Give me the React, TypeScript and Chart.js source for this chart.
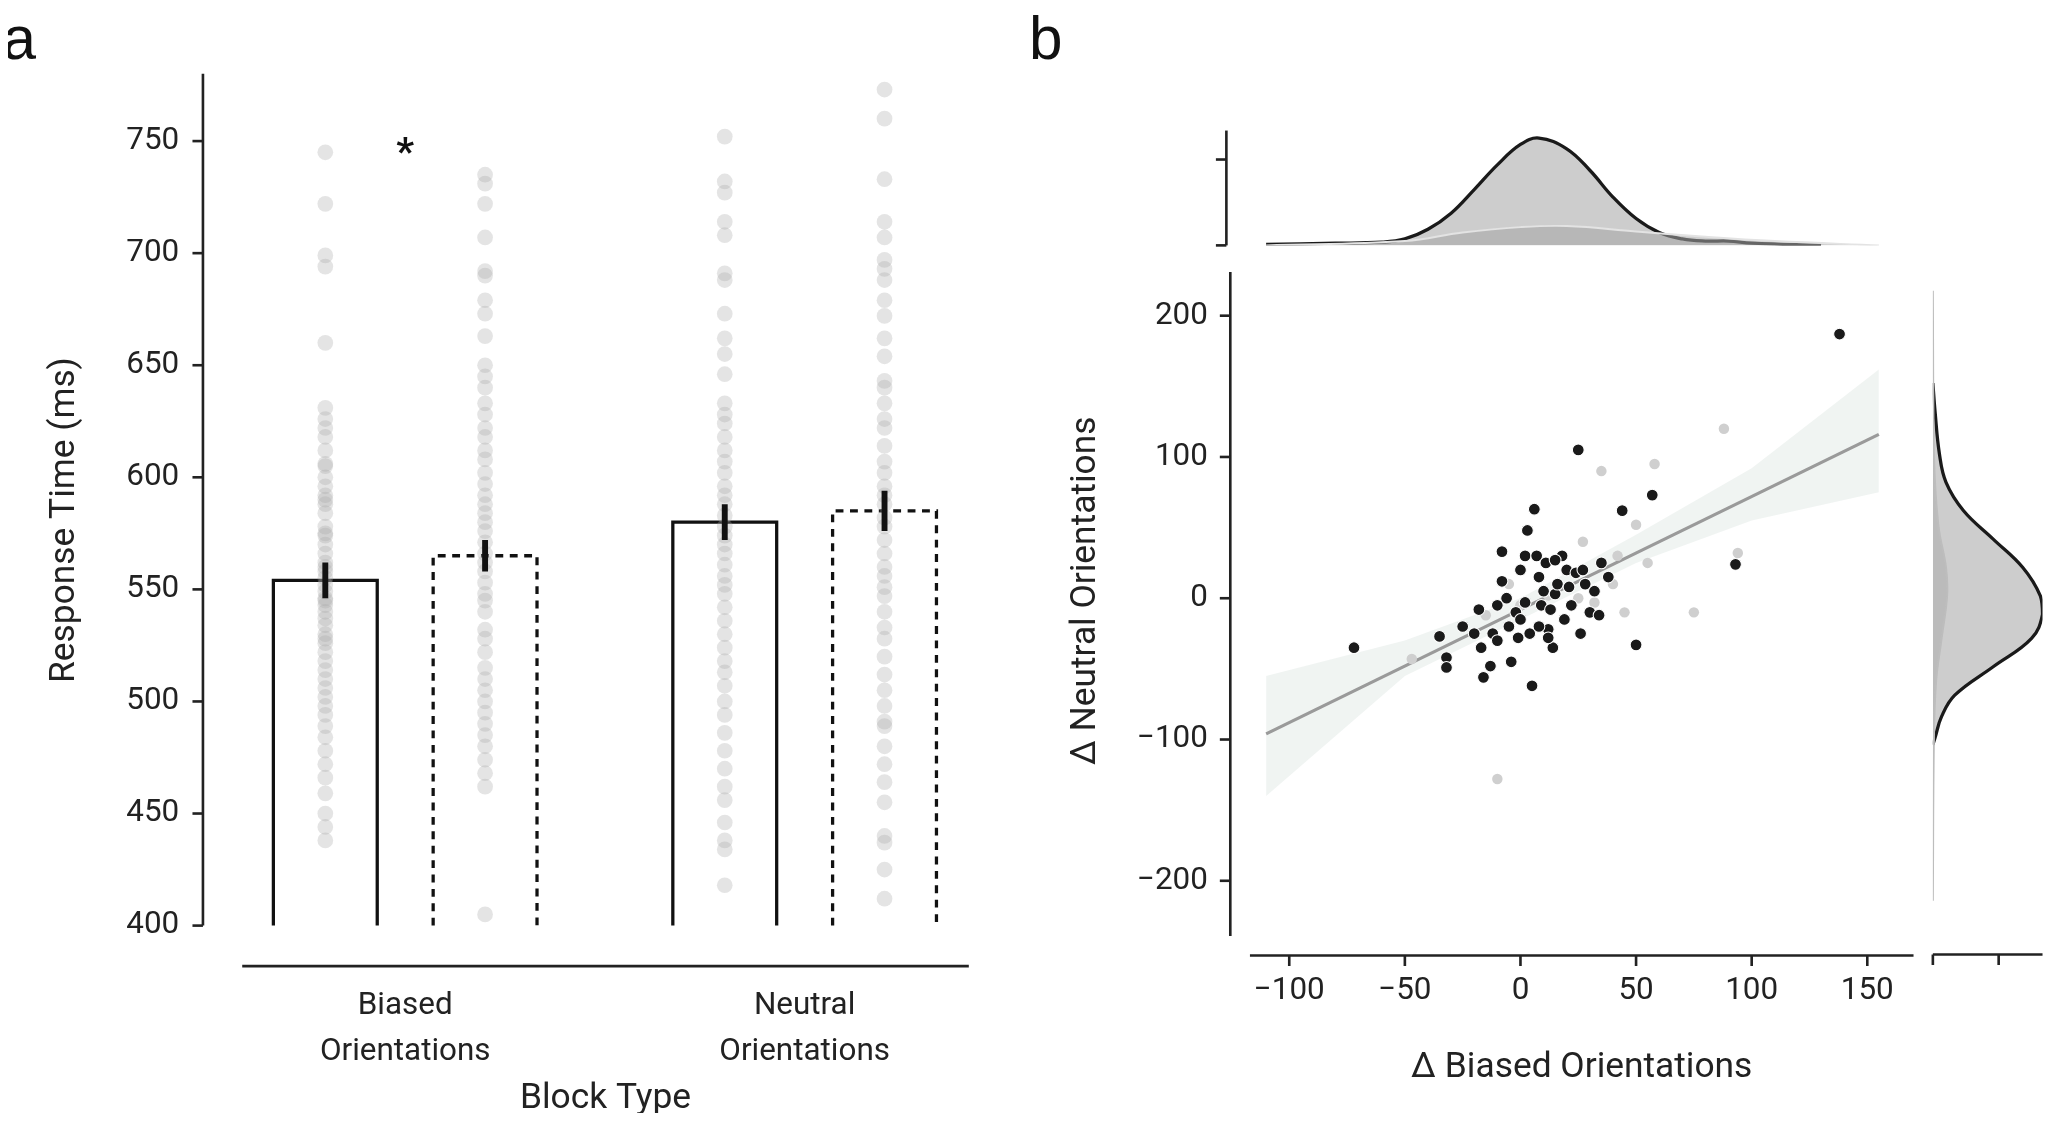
import React, { useEffect, useRef } from "react";
import { Chart, registerables } from "chart.js";
Chart.register(...registerables);

const S = 2053 / 1568;
const FONT = "Roboto, 'Liberation Sans', sans-serif";

// ---------- Panel a data ----------
const groupLabels = [["Biased", "Orientations"], ["Neutral", "Orientations"]];
const barMeans = [554, 565, 580, 585]; // biased-solid, biased-dashed, neutral-solid, neutral-dashed
const barErr = [8, 7, 8, 9];
const barX = [-0.2, 0.2, 0.8, 1.2];
const barHalf = 0.13;
const yTicksA = [400, 450, 500, 550, 600, 650, 700, 750];
const dotsBiasedA = [745,722,699,694,660,631,626,622,618,612,606,600,596,592,588,584,578,574,570,566,562,558,555,552,549,546,543,540,537,534,530,526,522,518,514,510,506,502,498,494,489,484,478,472,466,459,450,444,438,605,590,575,560,545,528];
const dotsBiasedB = [735,731,722,707,692,690,679,673,663,650,645,640,633,628,622,618,612,608,602,597,592,588,584,580,576,571,566,562,558,553,548,545,540,532,528,522,515,510,505,500,495,490,485,480,474,468,462,405];
const dotsNeutralA = [752,732,727,714,708,691,688,673,662,655,646,633,628,624,618,612,607,602,596,592,588,583,578,574,570,566,561,556,552,548,542,536,530,524,518,513,507,500,494,486,478,470,462,456,446,438,434,418];
const dotsNeutralB = [773,760,733,714,707,697,693,688,679,672,662,654,643,640,633,626,622,614,607,602,596,592,588,582,578,572,566,560,556,551,547,540,533,528,520,512,505,498,491,489,480,472,464,455,440,437,425,412];

// ---------- Panel b data ----------
const blackPts: [number, number][] = [[-72,-35],[-35,-27],[-32,-42],[-32,-49],[-25,-20],[-18,-8],[-17,-35],[-16,-56],[-13,-48],[-12,-25],[-10,-5],[-10,-30],[-8,33],[-8,12],[-5,-20],[-4,-45],[-2,-10],[-1,-28],[0,20],[0,-15],[2,30],[2,-3],[4,-25],[5,-62],[6,63],[7,30],[8,15],[9,-5],[10,5],[11,25],[12,-22],[13,-8],[14,-35],[15,3],[16,10],[18,30],[19,-15],[20,20],[21,8],[22,-5],[24,18],[25,105],[26,-25],[27,20],[28,10],[30,-10],[32,5],[34,-12],[35,25],[38,15],[44,62],[50,-33],[57,73],[93,24],[138,187],[-20,-25],[3,48],[-6,0],[8,-20],[12,-28],[15,27]];
const grayPts: [number, number][] = [[-47,-43],[-15,-12],[0,-5],[12,2],[20,20],[27,40],[32,-3],[40,10],[42,30],[45,-10],[50,52],[55,25],[58,95],[75,-10],[88,120],[94,32],[-10,-128],[35,90],[-5,10],[25,0]];
const fitLine: [number, number][] = [[-110,-96],[155,116]];
const bandX = [-110, -50, 0, 50, 100, 155];
const bandLo = [-140, -55, -15, 25, 55, 75];
const bandHi = [-55, -30, 0, 45, 92, 162];
const xTicksB = [-100, -50, 0, 50, 100, 150];
const yTicksB = [-200, -100, 0, 100, 200];
const topDarkX = [-110,-80,-60,-50,-40,-30,-20,-10,0,8,20,30,40,50,60,70,80,90,100,130];
const topDarkY = [0.01,0.02,0.03,0.06,0.15,0.3,0.52,0.75,0.94,1.0,0.9,0.7,0.45,0.25,0.12,0.06,0.04,0.04,0.02,0.0];
const topLightX = [-110,-50,-25,0,20,50,80,110,155];
const topLightY = [0,0.04,0.12,0.17,0.18,0.13,0.08,0.04,0];
const rightDarkY = [150,130,100,80,60,40,20,0,-13,-30,-50,-70,-85,-100,-105];
const rightDarkX = [0,0.02,0.06,0.12,0.28,0.55,0.82,0.98,1.0,0.9,0.55,0.2,0.08,0.02,0];
const rightLightY = [215,100,50,20,0,-30,-60,-100,-215];
const rightLightX = [0,0.01,0.05,0.12,0.13,0.08,0.03,0.01,0];

const zip = (xs: number[], ys: number[]) => xs.map((x, i) => ({ x, y: ys[i] }));
const minus = (v: number) => String(v).replace("-", "\u2212");

function axesPlugin(cfg: any) {
  return {
    id: "offAxes",
    afterDraw(chart: any) {
      const { ctx, chartArea: a, scales } = chart;
      ctx.save();
      ctx.strokeStyle = "#222";
      ctx.fillStyle = "#222";
      ctx.lineWidth = 2 * S;
      if (cfg.left) {
        const ys = scales.y;
        const x = a.left - cfg.left.offset * S;
        const t = cfg.left.to != null ? ys.getPixelForValue(cfg.left.to) : a.top;
        const b = cfg.left.from != null ? ys.getPixelForValue(cfg.left.from) : a.bottom;
        ctx.beginPath(); ctx.moveTo(x, t); ctx.lineTo(x, b); ctx.stroke();
        (cfg.left.ticks || []).forEach((v: number) => {
          const p = ys.getPixelForValue(v);
          ctx.beginPath(); ctx.moveTo(x - 8 * S, p); ctx.lineTo(x, p); ctx.stroke();
        });
        if (cfg.left.title) {
          ctx.save();
          ctx.translate(cfg.left.titleX * S, (a.top + a.bottom) / 2 + (cfg.left.titleDy || 0) * S);
          ctx.rotate(-Math.PI / 2);
          ctx.font = `${27 * S}px ${FONT}`;
          ctx.textAlign = "center";
          ctx.textBaseline = "middle";
          ctx.fillText(cfg.left.title, 0, 0);
          ctx.restore();
        }
      }
      if (cfg.bottom) {
        const xs = scales.x;
        const y = a.bottom + cfg.bottom.offset * S;
        ctx.beginPath(); ctx.moveTo(a.left, y); ctx.lineTo(a.right, y); ctx.stroke();
        (cfg.bottom.ticks || []).forEach((v: number) => {
          const p = xs.getPixelForValue(v);
          ctx.beginPath(); ctx.moveTo(p, y); ctx.lineTo(p, y + 8 * S); ctx.stroke();
        });
      }
      ctx.restore();
    },
  };
}

const starPlugin = {
  id: "star",
  afterDatasetsDraw(chart: any) {
    const { ctx, scales } = chart;
    ctx.save();
    ctx.fillStyle = "#111";
    ctx.font = `bold ${30 * S}px ${FONT}`;
    ctx.textAlign = "center";
    ctx.textBaseline = "middle";
    ctx.fillText("*", scales.x.getPixelForValue(0), scales.y.getPixelForValue(747) + 6 * S);
    ctx.restore();
  },
};

function useChart(make: () => any) {
  const ref = useRef<HTMLCanvasElement>(null);
  useEffect(() => {
    const c = new Chart(ref.current!, make());
    return () => c.destroy();
  }, []);
  return ref;
}

const tickFont = { family: FONT, size: 24 * S };
const titleFont = { family: FONT, size: 27 * S };

function Box({ x, y, w, h, make }: any) {
  const ref = useChart(make);
  return (
    <div style={{ position: "absolute", left: x * S, top: y * S, width: w * S, height: h * S }}>
      <canvas ref={ref} width={w * S} height={h * S} style={{ display: "block" }} />
    </div>
  );
}

const barOutline = (i: number) => [
  { x: barX[i] - barHalf, y: 400 },
  { x: barX[i] - barHalf, y: barMeans[i] },
  { x: barX[i] + barHalf, y: barMeans[i] },
  { x: barX[i] + barHalf, y: 400 },
];

const panelA = () => {
  const dotSets = [dotsBiasedA, dotsBiasedB, dotsNeutralA, dotsNeutralB];
  return {
    type: "scatter",
    data: {
      datasets: [
        ...barMeans.map((m, i) => ({
          type: "line", order: 1,
          data: [{ x: barX[i], y: m - barErr[i] }, { x: barX[i], y: m + barErr[i] }],
          borderColor: "#111", borderWidth: 4.5 * S, pointRadius: 0,
        })),
        ...dotSets.map((arr, i) => ({
          order: 2,
          data: arr.map((v) => ({ x: barX[i], y: v })),
          pointRadius: 6 * S, pointBackgroundColor: "rgba(165,165,165,0.3)", pointBorderWidth: 0,
        })),
        ...[0, 1, 2, 3].map((i) => ({
          type: "line", order: 3,
          data: barOutline(i),
          borderColor: "#111", borderWidth: 2.5 * S, pointRadius: 0,
          borderDash: i % 2 === 1 ? [6 * S, 5 * S] : [],
          fill: false,
        })),
      ],
    },
    options: {
      responsive: false, animation: false,
      layout: { padding: { top: 15 * S, right: 20 * S } },
      plugins: { legend: { display: false }, tooltip: { enabled: false } },
      scales: {
        x: {
          type: "linear", min: -0.408, max: 1.411,
          grid: { display: false }, border: { display: false },
          afterBuildTicks: (s: any) => { s.ticks = [{ value: 0 }, { value: 1 }]; },
          ticks: { color: "#222", font: { ...tickFont, lineHeight: 1.45 }, padding: 7 * S, callback: (v: number) => groupLabels[v] },
          title: { display: true, text: "Block Type", color: "#222", font: titleFont, padding: { top: 0, bottom: 14 * S } },
          afterFit: (s: any) => { s.height = 132 * S; },
        },
        y: {
          type: "linear", min: 381.9, max: 780,
          grid: { display: false }, border: { display: false },
          afterBuildTicks: (s: any) => { s.ticks = yTicksA.map((value) => ({ value })); },
          ticks: { color: "#222", font: tickFont, padding: 42 * S },
          afterFit: (s: any) => { s.width = 185 * S; },
        },
      },
    },
    plugins: [axesPlugin({ left: { offset: 30, from: 400, to: 780, ticks: yTicksA, title: "Response Time (ms)", titleX: 50, titleDy: 0 }, bottom: { offset: 0 } }), starPlugin],
  };
};

const XR = { min: -117, max: 170 };
const YR = { min: -239, max: 231 };

const panelMain = () => ({
  type: "scatter",
  data: {
    datasets: [
      { type: "line", data: zip(bandX, bandHi), borderWidth: 0, pointRadius: 0, fill: "+1", backgroundColor: "rgba(225,234,229,0.5)", order: 5 },
      { type: "line", data: zip(bandX, bandLo), borderWidth: 0, pointRadius: 0, fill: false, order: 5 },
      { type: "line", data: fitLine.map(([x, y]) => ({ x, y })), borderColor: "#9a9a9a", borderWidth: 2.5 * S, pointRadius: 0, order: 3 },
      { data: grayPts.map(([x, y]) => ({ x, y })), pointRadius: 4 * S, pointBackgroundColor: "#cfcfcf", pointBorderWidth: 0, order: 2 },
      { data: blackPts.map(([x, y]) => ({ x, y })), pointRadius: 4.5 * S, pointBackgroundColor: "#1a1a1a", pointBorderColor: "#fff", pointBorderWidth: 0.8 * S, order: 1 },
    ],
  },
  options: {
    responsive: false, animation: false,
    layout: { padding: { top: 10 * S, right: 8 * S } },
    plugins: { legend: { display: false }, tooltip: { enabled: false } },
    scales: {
      x: {
        type: "linear", ...XR,
        grid: { display: false }, border: { display: false },
        afterBuildTicks: (s: any) => { s.ticks = xTicksB.map((value) => ({ value })); },
        ticks: { color: "#222", font: tickFont, padding: 22 * S, callback: minus },
        title: { display: true, text: "\u0394 Biased Orientations", color: "#222", font: titleFont, padding: { top: 8 * S } },
        afterFit: (s: any) => { s.height = 120 * S; },
      },
      y: {
        type: "linear", ...YR,
        grid: { display: false }, border: { display: false },
        afterBuildTicks: (s: any) => { s.ticks = yTicksB.map((value) => ({ value })); },
        ticks: { color: "#222", font: tickFont, padding: 26 * S, callback: minus },
        afterFit: (s: any) => { s.width = 155 * S; },
      },
    },
  },
  plugins: [axesPlugin({ left: { offset: 15, ticks: yTicksB, title: "\u0394 Neutral Orientations", titleX: 30, titleDy: -10 }, bottom: { offset: 15, ticks: xTicksB } })],
});

const panelTop = () => ({
  type: "line",
  data: {
    datasets: [
      { data: zip(topLightX, topLightY), borderColor: "#e3e3e3", borderWidth: 1.5 * S, backgroundColor: "rgba(165,165,165,0.55)", fill: "origin", pointRadius: 0, tension: 0.4, order: 1 },
      { data: zip(topDarkX, topDarkY), borderColor: "#1a1a1a", borderWidth: 2.5 * S, backgroundColor: "rgba(200,200,200,0.9)", fill: "origin", pointRadius: 0, tension: 0.4, order: 2 },
    ],
  },
  options: {
    responsive: false, animation: false,
    layout: { padding: { top: 5 * S, right: 8 * S, bottom: 2 * S } },
    plugins: { legend: { display: false }, tooltip: { enabled: false } },
    scales: {
      x: { type: "linear", ...XR, display: false },
      y: {
        min: 0, max: 1.07, grid: { display: false }, border: { display: false },
        ticks: { display: false }, afterFit: (s: any) => { s.width = 155 * S; },
      },
    },
  },
  plugins: [axesPlugin({ left: { offset: 18, ticks: [0, 0.8] } })],
});

const panelRight = () => ({
  type: "line",
  data: {
    datasets: [
      { data: zip(rightLightX, rightLightY), borderColor: "#bdbdbd", borderWidth: 1.5 * S, backgroundColor: "rgba(170,170,170,0.5)", fill: "origin", pointRadius: 0, tension: 0.4, order: 1 },
      { data: zip(rightDarkX, rightDarkY), borderColor: "#1a1a1a", borderWidth: 2.5 * S, backgroundColor: "rgba(200,200,200,0.9)", fill: "origin", pointRadius: 0, tension: 0.4, order: 2 },
    ],
  },
  options: {
    indexAxis: "y",
    responsive: false, animation: false,
    layout: { padding: { top: 10 * S, right: 8 * S, left: 6 * S } },
    plugins: { legend: { display: false }, tooltip: { enabled: false } },
    scales: {
      x: {
        type: "linear", min: 0, max: 1.0, grid: { display: false }, border: { display: false },
        ticks: { display: false }, afterFit: (s: any) => { s.height = 120 * S; },
      },
      y: { type: "linear", ...YR, display: false },
    },
  },
  plugins: [axesPlugin({ bottom: { offset: 15, ticks: [0, 0.6] } })],
});

export default function App() {
  const letter = { position: "absolute" as const, fontFamily: "'Liberation Sans', sans-serif", fontSize: 46 * S, color: "#111", lineHeight: 1 };
  return (
    <div style={{ position: "relative", width: 1560 * S, height: 850 * S, background: "#fff", marginTop: -8, marginLeft: -8 }}>
      <div style={{ ...letter, left: 2 * S, top: 6 * S }}>a</div>
      <div style={{ ...letter, left: 786 * S, top: 6 * S }}>b</div>
      <Box x={0} y={0} w={760} h={870} make={panelA} />
      <Box x={800} y={95} w={670} h={95} make={panelTop} />
      <Box x={800} y={167} w={670} h={668} make={panelMain} />
      <Box x={1470} y={195} w={98} h={640} make={panelRight} />
    </div>
  );
}
